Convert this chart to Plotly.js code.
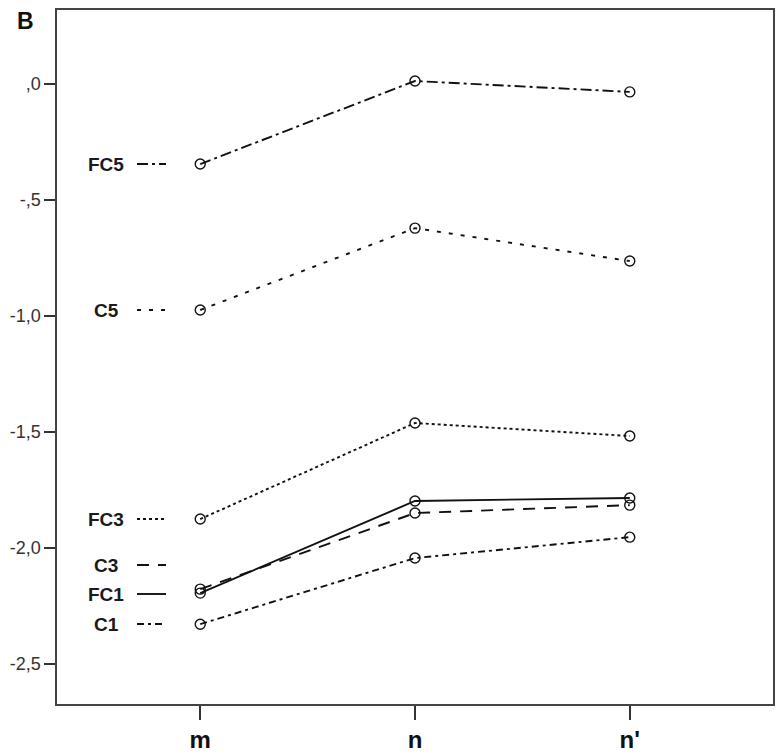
<!DOCTYPE html>
<html>
<head>
<meta charset="utf-8">
<script src="https://cdn.plot.ly/plotly-3.0.1.min.js"></script>
<style>html,body{margin:0;padding:0;background:#fff;}#chart{width:784px;height:756px;}</style>
</head>
<body>
<div id="chart"></div>
<script>
// ---- data ----
var categories = ["m", "n", "n'"];
var seriesNames = ["FC5", "C5", "FC3", "C3", "FC1", "C1"];
var FC5 = [-0.345, 0.013, -0.034];
var C5 = [-0.974, -0.621, -0.763];
var FC3 = [-1.875, -1.461, -1.517];
var C3 = [-2.177, -1.849, -1.815];
var FC1 = [-2.194, -1.797, -1.784];
var C1 = [-2.328, -2.043, -1.953];
var yTickVals = [0, -0.5, -1.0, -1.5, -2.0, -2.5];
var yTickText = [",0", "-,5", "-1,0", "-1,5", "-2,0", "-2,5"];

// ---- styles ----
var seriesValues = {FC5: FC5, C5: C5, FC3: FC3, C3: C3, FC1: FC1, C1: C1};
var dashes = {
  FC5: "11px,4px,3px,4px",
  C5: "4px,8px",
  FC3: "3px,3px",
  C3: "12px,9px",
  FC1: "solid",
  C1: "7px,4px,3px,4px"
};
// legend label vertical positions (pixels from top, layout only)
var legendPix = {FC5: 164, C5: 310, FC3: 519, C3: 565, FC1: 594, C1: 624};

var H = 756, T = 10, B = 52, L = 57, R = 773;
function pyToPaper(py) { return 1 - (py - T) / (H - T - B); }
function pxToPaper(px) { return (px - L) / (R - L); }
var FONT = "Liberation Sans, Arial, sans-serif";

var traces = seriesNames.map(function (n) {
  return {
    type: "scatter", mode: "lines+markers", name: n,
    x: [0, 1, 2], y: seriesValues[n],
    line: {color: "#111", width: 1.9, dash: dashes[n]},
    marker: {symbol: "circle-open", size: 10, color: "#111", line: {width: 1.4, color: "#111"}},
    showlegend: false, hoverinfo: "skip"
  };
});

var annotations = [];
var shapes = [];
seriesNames.forEach(function (n) {
  var yp = pyToPaper(legendPix[n]);
  annotations.push({
    xref: "paper", yref: "paper", x: pxToPaper(106), y: yp, xanchor: "center", yanchor: "middle",
    text: "<b>" + n + "</b>", showarrow: false,
    font: {family: FONT, size: 19, color: "#1a1a1a"}
  });
  shapes.push({
    type: "line", xref: "paper", yref: "paper", x0: pxToPaper(137), x1: pxToPaper(166), y0: yp, y1: yp,
    line: {color: "#111", width: 1.9, dash: dashes[n]}
  });
});
annotations.push({
  xref: "paper", yref: "paper", x: pxToPaper(26), y: pyToPaper(21), xanchor: "center", yanchor: "middle",
  text: "<b>B</b>", showarrow: false,
  font: {family: FONT, size: 23, color: "#111"}
});

var layout = {
  width: 784, height: 756,
  margin: {l: L, r: 784 - R, t: T, b: B},
  paper_bgcolor: "#fff", plot_bgcolor: "#fff",
  showlegend: false,
  xaxis: {
    range: [-0.667, 2.667], tickvals: [0, 1, 2], ticktext: categories,
    ticks: "outside", ticklen: 14, tickwidth: 1.5, tickcolor: "#333",
    showgrid: false, zeroline: false, showline: true, mirror: true,
    linecolor: "#444", linewidth: 1.6,
    tickfont: {family: FONT, size: 24, color: "#111", weight: "bold"}
  },
  yaxis: {
    range: [-2.672, 0.319], tickvals: yTickVals, ticktext: yTickText,
    ticks: "outside", ticklen: 11, tickwidth: 1.5, tickcolor: "#333",
    showgrid: false, zeroline: false, showline: true, mirror: true,
    linecolor: "#444", linewidth: 1.6,
    tickfont: {family: FONT, size: 18, color: "#333"}
  },
  annotations: annotations,
  shapes: shapes
};

Plotly.newPlot("chart", traces, layout, {staticPlot: true, displayModeBar: false});
</script>
</body>
</html>
